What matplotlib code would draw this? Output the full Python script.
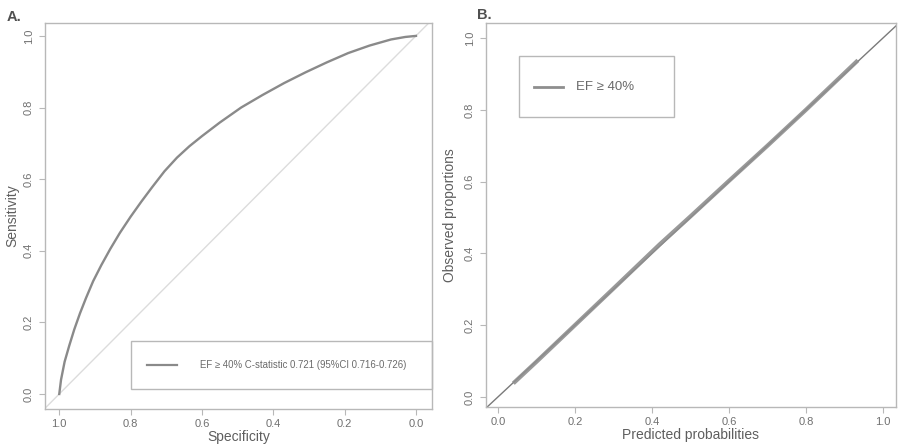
import matplotlib
matplotlib.use("Agg")
import matplotlib.pyplot as plt
from matplotlib.patches import Rectangle
from matplotlib.lines import Line2D

plt.rcParams['font.family'] = ['Liberation Sans', 'DejaVu Sans']

# ROC curve (panel A)
specificity = [1.0, 0.995, 0.985, 0.972, 0.958, 0.942, 0.925, 0.905, 0.882, 0.857,
               0.83, 0.80, 0.77, 0.74, 0.705, 0.67, 0.635, 0.60, 0.55, 0.49,
               0.43, 0.37, 0.31, 0.25, 0.19, 0.13, 0.07, 0.03, 0.0]
sensitivity = [0.0, 0.04, 0.09, 0.135, 0.18, 0.225, 0.268, 0.315, 0.36, 0.405,
               0.45, 0.495, 0.537, 0.577, 0.622, 0.66, 0.692, 0.72, 0.758, 0.80,
               0.835, 0.868, 0.898, 0.926, 0.952, 0.973, 0.99, 0.997, 1.0]
roc_label = "EF \u2265 40% C-statistic 0.721 (95%CI 0.716-0.726)"

# Calibration curve (panel B)
predicted = [0.04, 0.10, 0.20, 0.30, 0.42, 0.50, 0.60, 0.70, 0.80, 0.935]
observed = [0.038, 0.098, 0.200, 0.302, 0.425, 0.503, 0.602, 0.700, 0.800, 0.938]
cal_label = "EF \u2265 40%"

ticks = [0.0, 0.2, 0.4, 0.6, 0.8, 1.0]
tick_labels = ["0.0", "0.2", "0.4", "0.6", "0.8", "1.0"]

FRAME = "#b8b8b8"
TEXT = "#707070"
LABEL = "#5e5e5e"

fig = plt.figure(figsize=(9, 4.46), dpi=100)
W, H = 900, 446


def px_axes(left, top, right, bottom):
    return fig.add_axes([left / W, 1 - bottom / H, (right - left) / W, (bottom - top) / H])


def style(ax):
    for s in ax.spines.values():
        s.set_color(FRAME)
        s.set_linewidth(1.0)
    ax.set_xticks(ticks)
    ax.set_xticklabels(tick_labels)
    ax.set_yticks(ticks)
    ax.set_yticklabels(tick_labels, rotation=90, va="center")
    ax.tick_params(axis="both", colors=FRAME, labelcolor=TEXT, labelsize=8,
                   length=4, width=0.8)
    ax.tick_params(axis="x", pad=3)
    ax.tick_params(axis="y", pad=4)


# Panel A: ROC
axA = px_axes(45, 23, 432, 409)
style(axA)
axA.set_xlim(1.04, -0.045)
axA.set_ylim(-0.042, 1.036)
axA.axline((1.0, 0.0), (0.0, 1.0), color="#dcdcdc", lw=1.0, zorder=1)
axA.plot(specificity, sensitivity, color="#8a8a8a", lw=1.7, zorder=2,
         solid_joinstyle="round")
axA.set_xlabel("Specificity", fontsize=10, color=LABEL, labelpad=1)
axA.set_ylabel("Sensitivity", fontsize=10, color=LABEL, labelpad=3)
axA.add_patch(Rectangle((0.222, 0.052), 0.778, 0.124, transform=axA.transAxes,
                        fill=False, edgecolor=FRAME, lw=1.0, clip_on=False, zorder=3))
axA.add_line(Line2D([0.264, 0.341], [0.114, 0.114], transform=axA.transAxes,
                    color="#8a8a8a", lw=1.6))
axA.text(0.40, 0.114, roc_label, transform=axA.transAxes, fontsize=6.9,
         color="#6a6a6a", va="center", ha="left")
fig.text(7 / W, 1 - 17 / H, "A.", fontsize=10.5, fontweight="bold",
         color="#505050", va="center", ha="left")

# Panel B: calibration
axB = px_axes(486, 23, 896, 407)
style(axB)
axB.set_xlim(-0.031, 1.034)
axB.set_ylim(-0.028, 1.042)
axB.axline((0.0, 0.0), (1.0, 1.0), color="#7a7a7a", lw=1.0, zorder=1)
axB.plot(predicted, observed, color="#8e8e8e", lw=3.0, zorder=2, alpha=0.9,
         solid_capstyle="butt")
axB.set_xlabel("Predicted probabilities", fontsize=10, color=LABEL, labelpad=1)
axB.set_ylabel("Observed proportions", fontsize=10, color=LABEL, labelpad=6)
axB.add_patch(Rectangle((0.080, 0.755), 0.379, 0.159, transform=axB.transAxes,
                        fill=False, edgecolor=FRAME, lw=1.0, zorder=3))
axB.add_line(Line2D([0.117, 0.188], [0.833, 0.833], transform=axB.transAxes,
                    color="#8e8e8e", lw=2.0))
axB.text(0.220, 0.833, cal_label, transform=axB.transAxes, fontsize=9.5,
         color="#6a6a6a", va="center", ha="left")
fig.text(477 / W, 1 - 15 / H, "B.", fontsize=10.5, fontweight="bold",
         color="#505050", va="center", ha="left")

fig.savefig("out.png", dpi=100, facecolor="white")
